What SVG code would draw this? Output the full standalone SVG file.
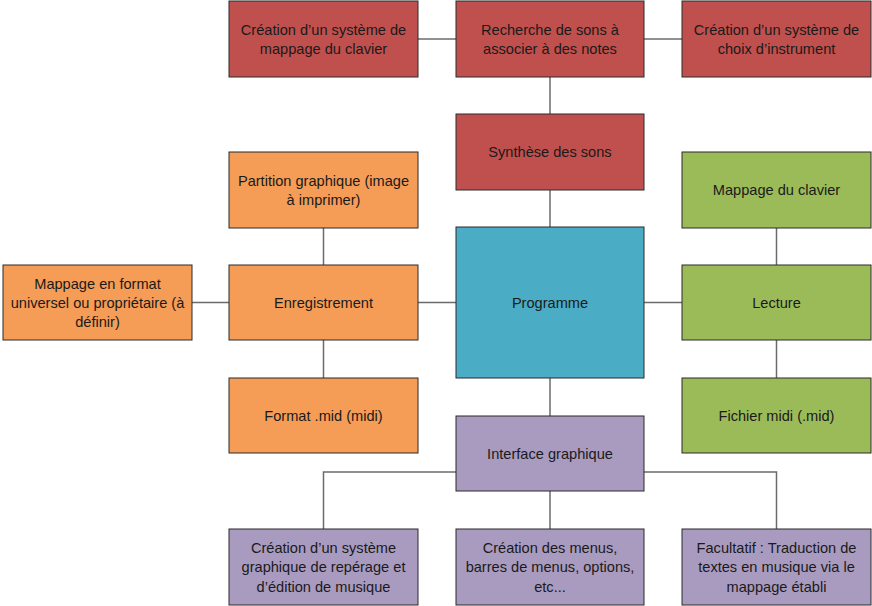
<svg xmlns="http://www.w3.org/2000/svg" width="872" height="606" viewBox="0 0 872 606">
<style>
  .box { stroke: #2b2b2b; stroke-width: 1; }
  .red { fill: #C0504D; }
  .orange { fill: #F59D56; }
  .green { fill: #9BBB59; }
  .blue { fill: #4BACC6; }
  .purple { fill: #A99BBF; }
  text { font-family: "Liberation Sans", Arial, sans-serif; font-size: 14.6px; fill: #1a1a1a; text-anchor: middle; }
  .conn { stroke: #6b6b6b; stroke-width: 1.5; fill: none; }
</style>
<rect width="872" height="606" fill="#ffffff"/>
<g id="connectors">
  <line class="conn" x1="418" y1="39" x2="456" y2="39"/>
  <line class="conn" x1="644" y1="39" x2="682" y2="39"/>
  <line class="conn" x1="550" y1="77" x2="550" y2="114"/>
  <line class="conn" x1="550" y1="190" x2="550" y2="227"/>
  <line class="conn" x1="418" y1="302.5" x2="456" y2="302.5"/>
  <line class="conn" x1="644" y1="302.5" x2="682" y2="302.5"/>
  <line class="conn" x1="192" y1="302.5" x2="229" y2="302.5"/>
  <line class="conn" x1="323.5" y1="228" x2="323.5" y2="265"/>
  <line class="conn" x1="323.5" y1="340" x2="323.5" y2="378"/>
  <line class="conn" x1="776.5" y1="228" x2="776.5" y2="265"/>
  <line class="conn" x1="776.5" y1="340" x2="776.5" y2="378"/>
  <line class="conn" x1="550" y1="378" x2="550" y2="416"/>
  <polyline class="conn" points="456,472 323.5,472 323.5,529"/>
  <line class="conn" x1="550" y1="491" x2="550" y2="529"/>
  <polyline class="conn" points="644,472 776.5,472 776.5,529"/>
</g>
<g id="n1"><rect class="box red" x="229" y="1" width="189" height="76"/><text x="323.5" y="34.5">Création d’un système de</text><text x="323.5" y="53.5">mappage du clavier</text></g>
<g id="n2"><rect class="box red" x="456" y="1" width="188" height="76"/><text x="550" y="34.5">Recherche de sons à</text><text x="550" y="53.5">associer à des notes</text></g>
<g id="n3"><rect class="box red" x="682" y="1" width="189" height="76"/><text x="776.5" y="34.5">Création d’un système de</text><text x="776.5" y="53.5">choix d’instrument</text></g>
<g id="n4"><rect class="box red" x="456" y="114" width="188" height="76"/><text x="550" y="157">Synthèse des sons</text></g>
<g id="n5"><rect class="box orange" x="229" y="152" width="189" height="76"/><text x="323.5" y="185.5">Partition graphique (image</text><text x="323.5" y="204.5">à imprimer)</text></g>
<g id="n6"><rect class="box green" x="682" y="152" width="189" height="76"/><text x="776.5" y="195">Mappage du clavier</text></g>
<g id="n7"><rect class="box blue" x="456" y="227" width="188" height="151"/><text x="550" y="307.5">Programme</text></g>
<g id="n8"><rect class="box orange" x="3" y="265" width="189" height="75"/><text x="97.5" y="288.5">Mappage en format</text><text x="97.5" y="307.5">universel ou propriétaire (à</text><text x="97.5" y="326.5">définir)</text></g>
<g id="n9"><rect class="box orange" x="229" y="265" width="189" height="75"/><text x="323.5" y="307.5">Enregistrement</text></g>
<g id="n10"><rect class="box green" x="682" y="265" width="189" height="75"/><text x="776.5" y="307.5">Lecture</text></g>
<g id="n11"><rect class="box orange" x="229" y="378" width="189" height="75"/><text x="323.5" y="420.5">Format .mid (midi)</text></g>
<g id="n12"><rect class="box green" x="682" y="378" width="189" height="75"/><text x="776.5" y="420.5">Fichier midi (.mid)</text></g>
<g id="n13"><rect class="box purple" x="456" y="416" width="188" height="75"/><text x="550" y="458.5">Interface graphique</text></g>
<g id="n14"><rect class="box purple" x="229" y="529" width="189" height="76"/><text x="323.5" y="553">Création d’un système</text><text x="323.5" y="572">graphique de repérage et</text><text x="323.5" y="591.5">d’édition de musique</text></g>
<g id="n15"><rect class="box purple" x="456" y="529" width="188" height="76"/><text x="550" y="553">Création des menus,</text><text x="550" y="572">barres de menus, options,</text><text x="550" y="591.5">etc...</text></g>
<g id="n16"><rect class="box purple" x="682" y="529" width="189" height="76"/><text x="776.5" y="553">Facultatif : Traduction de</text><text x="776.5" y="572">textes en musique via le</text><text x="776.5" y="591.5">mappage établi</text></g>
</svg>
